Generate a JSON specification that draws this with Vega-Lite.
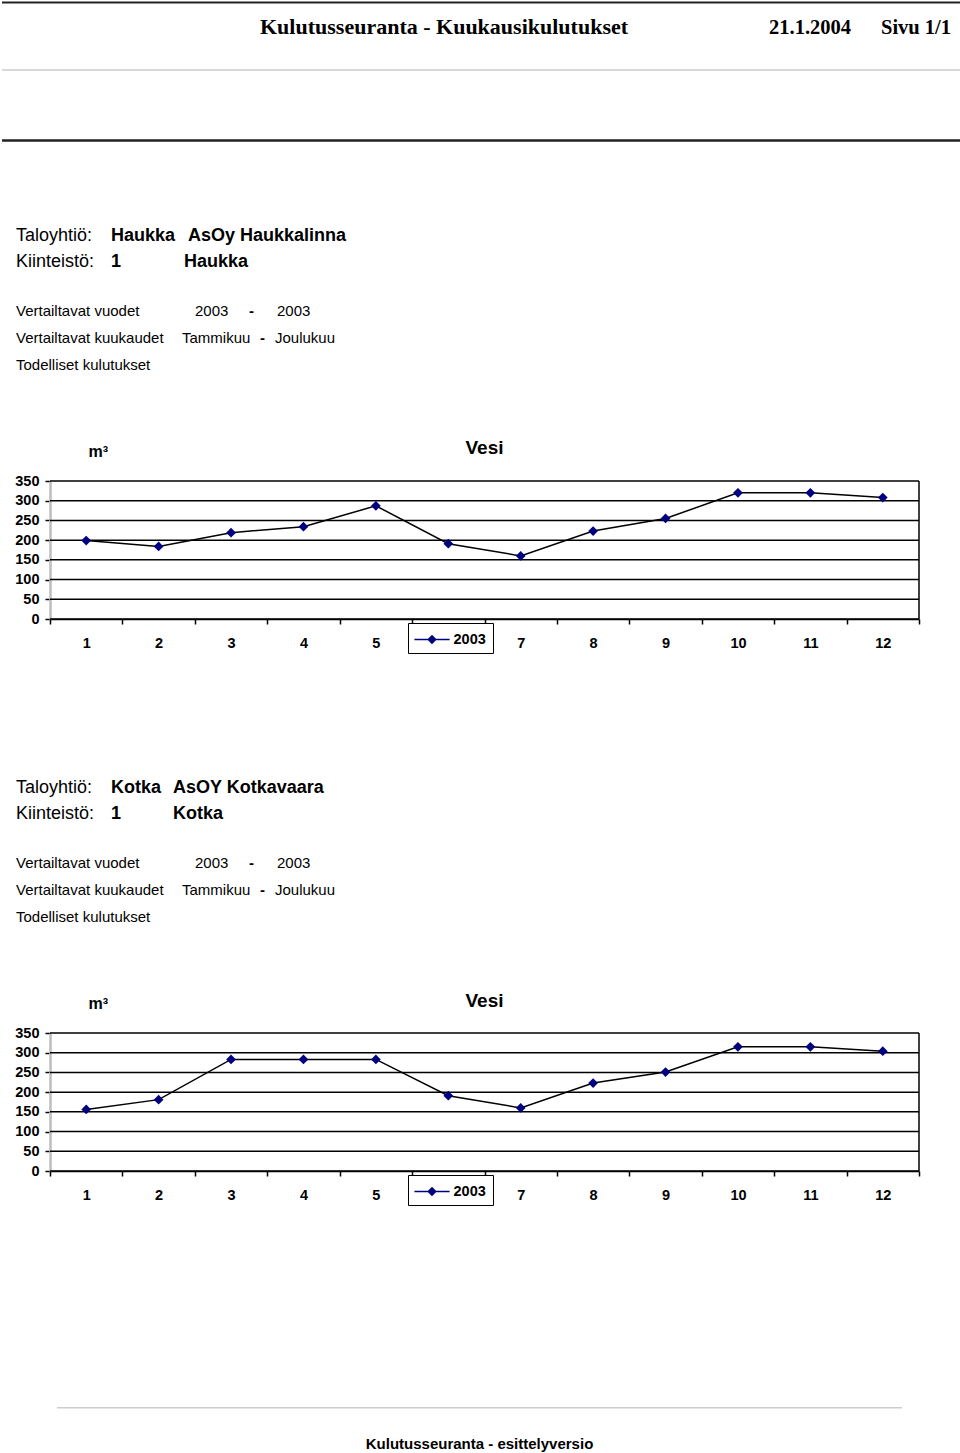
{
  "$schema": "https://vega.github.io/schema/vega-lite/v6.json",
  "padding": 0,
  "spacing": 0,
  "bounds": "flush",
  "background": "white",
  "resolve": {"scale": {"color": "independent"}, "legend": {"color": "independent"}},
  "config": {
    "view": {"stroke": null},
    "font": "Liberation Sans",
    "text": {"color": "black"}
  },
  "vconcat": [
    {
      "width": 960,
      "height": 481,
      "layer": [
        {"data": {"values": [{"line": 0}]}, "mark": {"type": "rule", "color": "#222222", "strokeWidth": 2},
         "encoding": {"y": {"field": "line", "type": "quantitative", "scale": {"domain": [0,1,2,3,4,5,6,7,8,9], "range": [2.5,34,70,140.5,241,267,316,343,370,454], "nice": false, "zero": false}, "axis": null}}},
        {"data": {"values": [{"line": 2}]}, "mark": {"type": "rule", "color": "#cccccc", "strokeWidth": 1.5},
         "encoding": {"y": {"field": "line", "type": "quantitative", "scale": {"domain": [0,1,2,3,4,5,6,7,8,9], "range": [2.5,34,70,140.5,241,267,316,343,370,454], "nice": false, "zero": false}, "axis": null}}},
        {"data": {"values": [{"line": 3}]}, "mark": {"type": "rule", "color": "#222222", "strokeWidth": 2.5},
         "encoding": {"y": {"field": "line", "type": "quantitative", "scale": {"domain": [0,1,2,3,4,5,6,7,8,9], "range": [2.5,34,70,140.5,241,267,316,343,370,454], "nice": false, "zero": false}, "axis": null}}},
        {
          "encoding": {
            "x": {"field": "col", "type": "quantitative", "scale": {"domain": [1,2,3,4,5,6,7,8,9,10,11,12,13,14], "range": [14,109,171,180,182,186,193,247,258,273,275,482.5,767,879], "nice": false, "zero": false}, "axis": null},
            "y": {"field": "line", "type": "quantitative", "scale": {"domain": [0,1,2,3,4,5,6,7,8,9], "range": [2.5,34,70,140.5,241,267,316,343,370,454], "nice": false, "zero": false}, "axis": null},
            "text": {"field": "text"}
          },
          "layer": [
            {"data": {"values": [{"line": 1, "col": 9, "text": "Kulutusseuranta - Kuukausikulutukset"}]},
             "mark": {"type": "text", "align": "left", "baseline": "alphabetic", "font": "Liberation Serif", "fontSize": 22, "fontWeight": "bold", "color": "black"}},
            {"data": {"values": [{"line": 1, "col": 13, "text": "21.1.2004"}, {"line": 1, "col": 14, "text": "Sivu 1/1"}]},
             "mark": {"type": "text", "align": "left", "baseline": "alphabetic", "font": "Liberation Serif", "fontSize": 20.5, "fontWeight": "bold", "color": "black"}},
            {"data": {"values": [{"line": 4, "col": 1, "text": "Taloyhtiö:"}, {"line": 5, "col": 1, "text": "Kiinteistö:"}]},
             "mark": {"type": "text", "align": "left", "baseline": "alphabetic", "fontSize": 18, "color": "black"}},
            {"data": {"values": [{"line": 4, "col": 2, "text": "Haukka"}, {"line": 4, "col": 6, "text": "AsOy Haukkalinna"}, {"line": 5, "col": 2, "text": "1"}, {"line": 5, "col": 5, "text": "Haukka"}]},
             "mark": {"type": "text", "align": "left", "baseline": "alphabetic", "fontSize": 18, "fontWeight": "bold", "color": "black"}},
            {"data": {"values": [
              {"line": 6, "col": 1, "text": "Vertailtavat vuodet"}, {"line": 6, "col": 7, "text": "2003"}, {"line": 6, "col": 11, "text": "2003"},
              {"line": 7, "col": 1, "text": "Vertailtavat kuukaudet"}, {"line": 7, "col": 4, "text": "Tammikuu"}, {"line": 7, "col": 10, "text": "Joulukuu"},
              {"line": 8, "col": 1, "text": "Todelliset kulutukset"}]},
             "mark": {"type": "text", "align": "left", "baseline": "alphabetic", "fontSize": 15, "color": "black"}},
            {"data": {"values": [{"line": 6, "col": 8, "text": "-"}, {"line": 7, "col": 9, "text": "-"}]},
             "mark": {"type": "text", "align": "left", "baseline": "alphabetic", "fontSize": 15, "fontWeight": "bold", "color": "black"}},
            {"data": {"values": [{"line": 9, "col": 12, "text": "Vesi"}]},
             "mark": {"type": "text", "align": "center", "baseline": "alphabetic", "fontSize": 19, "fontWeight": "bold", "color": "black"}}
          ]
        }
      ]
    },
    {
      "width": 960,
      "height": 138,
      "data": {"values": [
        {"month": 1, "value": 199, "year": "2003"}, {"month": 2, "value": 184, "year": "2003"},
        {"month": 3, "value": 219, "year": "2003"}, {"month": 4, "value": 234, "year": "2003"},
        {"month": 5, "value": 287, "year": "2003"}, {"month": 6, "value": 191, "year": "2003"},
        {"month": 7, "value": 160, "year": "2003"}, {"month": 8, "value": 223, "year": "2003"},
        {"month": 9, "value": 255, "year": "2003"}, {"month": 10, "value": 320, "year": "2003"},
        {"month": 11, "value": 320, "year": "2003"}, {"month": 12, "value": 308, "year": "2003"}
      ]},
      "encoding": {
        "x": {"field": "month", "type": "quantitative", "scale": {"domain": [0.5, 12.5], "range": [48, 917], "nice": false, "zero": false},
              "axis": {"values": [0.5,1.5,2.5,3.5,4.5,5.5,6.5,7.5,8.5,9.5,10.5,11.5,12.5], "labelOffset": 36.2,
                       "labelExpr": "datum.value == 5.5 || datum.value == 12.5 ? '' : format(datum.value + 0.5, 'd')",
                       "labelFlush": false, "labelOverlap": false, "labelBound": false, "labelAngle": 0,
                       "domainColor": "black", "domainWidth": 1.5, "tickColor": "black", "tickWidth": 1.5, "tickSize": 5,
                       "labelFont": "Liberation Sans", "labelFontSize": 14.5, "labelFontWeight": "bold", "labelColor": "black", "labelBaseline": "alphabetic", "labelPadding": 23,
                       "title": null, "grid": false}},
        "y": {"field": "value", "type": "quantitative", "scale": {"domain": [0, 350], "nice": false, "zero": false},
              "axis": {"values": [0,50,100,150,200,250,300,350], "grid": false, "offset": -48,
                       "domainColor": "#bdbdbd", "domainWidth": 2.5, "tickColor": "black", "tickWidth": 1.5, "tickSize": 5,
                       "labelFont": "Liberation Sans", "labelFontSize": 14.5, "labelFontWeight": "bold", "labelColor": "black", "labelPadding": 6, "labelFlush": false, "labelOverlap": false,
                       "title": "m³", "titleAngle": 0, "titleX": 38, "titleY": -25, "titleAlign": "left", "titleBaseline": "alphabetic",
                       "titleFont": "Liberation Sans", "titleFontSize": 16, "titleFontWeight": "bold", "titleColor": "black"}}
      },
      "layer": [
        {"data": {"values": [{"value": 0, "month": 0.5, "monthEnd": 12.5}, {"value": 50, "month": 0.5, "monthEnd": 12.5}, {"value": 100, "month": 0.5, "monthEnd": 12.5}, {"value": 150, "month": 0.5, "monthEnd": 12.5}, {"value": 200, "month": 0.5, "monthEnd": 12.5}, {"value": 250, "month": 0.5, "monthEnd": 12.5}, {"value": 300, "month": 0.5, "monthEnd": 12.5}, {"value": 350, "month": 0.5, "monthEnd": 12.5}]},
         "mark": {"type": "rule", "color": "black", "strokeWidth": 1.5},
         "encoding": {"x2": {"field": "monthEnd"}}},
        {"data": {"values": [{"month": 12.5, "value": 0, "valueEnd": 350}]},
         "mark": {"type": "rule", "color": "black", "strokeWidth": 1.5},
         "encoding": {"y2": {"field": "valueEnd"}}},
        {"mark": {"type": "line", "color": "black", "strokeWidth": 1.5}},
        {"mark": {"type": "point", "shape": "diamond", "filled": true, "size": 95, "opacity": 1},
         "encoding": {"color": {"field": "year", "type": "nominal", "scale": {"range": ["#000080"]},
           "legend": {"orient": "none", "legendX": 406, "legendY": 142, "title": null,
                      "symbolType": "M-1.85,-0.08L1.85,-0.08L1.85,0.08L-1.85,0.08Z M-0.5,0L0,-0.5L0.5,0L0,0.5Z", "symbolSize": 361, "symbolOffset": 7.5, "labelOffset": 12,
                      "symbolStrokeWidth": 0, "symbolStrokeColor": "#000080", "symbolFillColor": "#000080", "symbolOpacity": 1,
                      "labelFont": "Liberation Sans", "labelFontSize": 14.5, "labelFontWeight": "bold", "labelColor": "black",
                      "strokeColor": "black", "fillColor": "white", "padding": 7, "zindex": 2}}}}
      ]
    },
    {
      "width": 960,
      "height": 414,
      "encoding": {
        "x": {"field": "col", "type": "quantitative", "scale": {"domain": [1,2,3,4,5,6,7,8,9,10,11,12,13,14], "range": [14,109,171,180,182,186,193,247,258,273,275,482.5,767,879], "nice": false, "zero": false}, "axis": null},
        "y": {"field": "line", "type": "quantitative", "scale": {"domain": [4,5,6,7,8,9], "range": [174,200,249,276,303,388], "nice": false, "zero": false}, "axis": null},
        "text": {"field": "text"}
      },
      "layer": [
        {"data": {"values": [{"line": 4, "col": 1, "text": "Taloyhtiö:"}, {"line": 5, "col": 1, "text": "Kiinteistö:"}]},
         "mark": {"type": "text", "align": "left", "baseline": "alphabetic", "fontSize": 18, "color": "black"}},
        {"data": {"values": [{"line": 4, "col": 2, "text": "Kotka"}, {"line": 4, "col": 3, "text": "AsOY Kotkavaara"}, {"line": 5, "col": 2, "text": "1"}, {"line": 5, "col": 3, "text": "Kotka"}]},
         "mark": {"type": "text", "align": "left", "baseline": "alphabetic", "fontSize": 18, "fontWeight": "bold", "color": "black"}},
        {"data": {"values": [
          {"line": 6, "col": 1, "text": "Vertailtavat vuodet"}, {"line": 6, "col": 7, "text": "2003"}, {"line": 6, "col": 11, "text": "2003"},
          {"line": 7, "col": 1, "text": "Vertailtavat kuukaudet"}, {"line": 7, "col": 4, "text": "Tammikuu"}, {"line": 7, "col": 10, "text": "Joulukuu"},
          {"line": 8, "col": 1, "text": "Todelliset kulutukset"}]},
         "mark": {"type": "text", "align": "left", "baseline": "alphabetic", "fontSize": 15, "color": "black"}},
        {"data": {"values": [{"line": 6, "col": 8, "text": "-"}, {"line": 7, "col": 9, "text": "-"}]},
         "mark": {"type": "text", "align": "left", "baseline": "alphabetic", "fontSize": 15, "fontWeight": "bold", "color": "black"}},
        {"data": {"values": [{"line": 9, "col": 12, "text": "Vesi"}]},
         "mark": {"type": "text", "align": "center", "baseline": "alphabetic", "fontSize": 19, "fontWeight": "bold", "color": "black"}}
      ]
    },
    {
      "width": 960,
      "height": 138,
      "data": {"values": [
        {"month": 1, "value": 156, "year": "2003"}, {"month": 2, "value": 181, "year": "2003"},
        {"month": 3, "value": 283, "year": "2003"}, {"month": 4, "value": 283, "year": "2003"},
        {"month": 5, "value": 283, "year": "2003"}, {"month": 6, "value": 191, "year": "2003"},
        {"month": 7, "value": 160, "year": "2003"}, {"month": 8, "value": 223, "year": "2003"},
        {"month": 9, "value": 251, "year": "2003"}, {"month": 10, "value": 315, "year": "2003"},
        {"month": 11, "value": 315, "year": "2003"}, {"month": 12, "value": 304, "year": "2003"}
      ]},
      "encoding": {
        "x": {"field": "month", "type": "quantitative", "scale": {"domain": [0.5, 12.5], "range": [48, 917], "nice": false, "zero": false},
              "axis": {"values": [0.5,1.5,2.5,3.5,4.5,5.5,6.5,7.5,8.5,9.5,10.5,11.5,12.5], "labelOffset": 36.2,
                       "labelExpr": "datum.value == 5.5 || datum.value == 12.5 ? '' : format(datum.value + 0.5, 'd')",
                       "labelFlush": false, "labelOverlap": false, "labelBound": false, "labelAngle": 0,
                       "domainColor": "black", "domainWidth": 1.5, "tickColor": "black", "tickWidth": 1.5, "tickSize": 5,
                       "labelFont": "Liberation Sans", "labelFontSize": 14.5, "labelFontWeight": "bold", "labelColor": "black", "labelBaseline": "alphabetic", "labelPadding": 23,
                       "title": null, "grid": false}},
        "y": {"field": "value", "type": "quantitative", "scale": {"domain": [0, 350], "nice": false, "zero": false},
              "axis": {"values": [0,50,100,150,200,250,300,350], "grid": false, "offset": -48,
                       "domainColor": "#bdbdbd", "domainWidth": 2.5, "tickColor": "black", "tickWidth": 1.5, "tickSize": 5,
                       "labelFont": "Liberation Sans", "labelFontSize": 14.5, "labelFontWeight": "bold", "labelColor": "black", "labelPadding": 6, "labelFlush": false, "labelOverlap": false,
                       "title": "m³", "titleAngle": 0, "titleX": 38, "titleY": -25, "titleAlign": "left", "titleBaseline": "alphabetic",
                       "titleFont": "Liberation Sans", "titleFontSize": 16, "titleFontWeight": "bold", "titleColor": "black"}}
      },
      "layer": [
        {"data": {"values": [{"value": 0, "month": 0.5, "monthEnd": 12.5}, {"value": 50, "month": 0.5, "monthEnd": 12.5}, {"value": 100, "month": 0.5, "monthEnd": 12.5}, {"value": 150, "month": 0.5, "monthEnd": 12.5}, {"value": 200, "month": 0.5, "monthEnd": 12.5}, {"value": 250, "month": 0.5, "monthEnd": 12.5}, {"value": 300, "month": 0.5, "monthEnd": 12.5}, {"value": 350, "month": 0.5, "monthEnd": 12.5}]},
         "mark": {"type": "rule", "color": "black", "strokeWidth": 1.5},
         "encoding": {"x2": {"field": "monthEnd"}}},
        {"data": {"values": [{"month": 12.5, "value": 0, "valueEnd": 350}]},
         "mark": {"type": "rule", "color": "black", "strokeWidth": 1.5},
         "encoding": {"y2": {"field": "valueEnd"}}},
        {"mark": {"type": "line", "color": "black", "strokeWidth": 1.5}},
        {"mark": {"type": "point", "shape": "diamond", "filled": true, "size": 95, "opacity": 1},
         "encoding": {"color": {"field": "year", "type": "nominal", "scale": {"range": ["#000080"]},
           "legend": {"orient": "none", "legendX": 406, "legendY": 142, "title": null,
                      "symbolType": "M-1.85,-0.08L1.85,-0.08L1.85,0.08L-1.85,0.08Z M-0.5,0L0,-0.5L0.5,0L0,0.5Z", "symbolSize": 361, "symbolOffset": 7.5, "labelOffset": 12,
                      "symbolStrokeWidth": 0, "symbolStrokeColor": "#000080", "symbolFillColor": "#000080", "symbolOpacity": 1,
                      "labelFont": "Liberation Sans", "labelFontSize": 14.5, "labelFontWeight": "bold", "labelColor": "black",
                      "strokeColor": "black", "fillColor": "white", "padding": 7, "zindex": 2}}}}
      ]
    },
    {
      "hconcat": [
        {"width": 55, "height": 282, "data": {"values": []}, "mark": "point"},
        {
          "width": 845,
          "height": 282,
          "layer": [
            {"data": {"values": [{"line": 1}]}, "mark": {"type": "rule", "color": "#cccccc", "strokeWidth": 1.5},
             "encoding": {"y": {"field": "line", "type": "quantitative", "scale": {"domain": [1, 2], "range": [236.7, 278], "nice": false, "zero": false}, "axis": null}}},
            {"data": {"values": [{"line": 2, "text": "Kulutusseuranta - esittelyversio"}]},
             "mark": {"type": "text", "align": "center", "baseline": "alphabetic", "fontSize": 15, "fontWeight": "bold", "color": "black"},
             "encoding": {"y": {"field": "line", "type": "quantitative", "scale": {"domain": [1, 2], "range": [236.7, 278], "nice": false, "zero": false}, "axis": null}, "text": {"field": "text"}}}
          ]
        }
      ],
      "spacing": 0,
      "bounds": "flush"
    }
  ]
}
